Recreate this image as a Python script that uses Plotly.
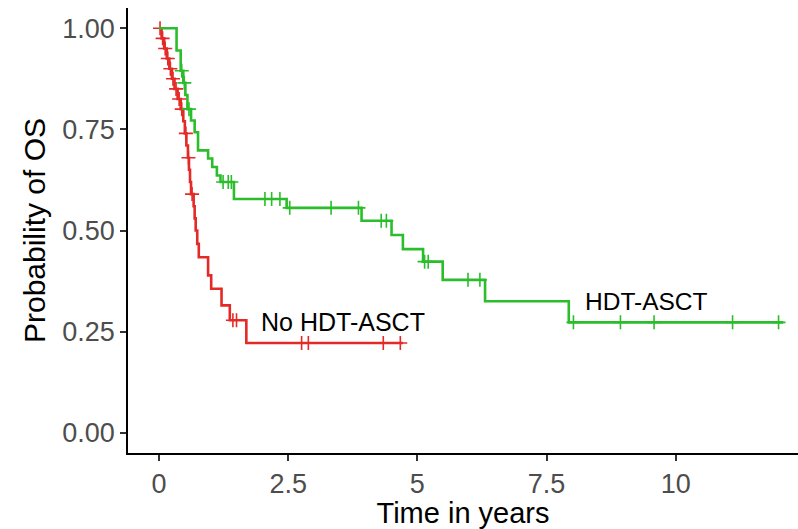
import numpy as np
import plotly.graph_objects as go

# ---- data ----
red_event_t = [0, 0.05, 0.10, 0.15, 0.20, 0.25, 0.30, 0.36, 0.42, 0.47, 0.50, 0.53, 0.56, 0.58, 0.60,
               0.62, 0.67, 0.69, 0.71, 0.74, 0.77, 0.95, 1.01, 1.21, 1.37, 1.69]
red_surv = [1.0, 0.975, 0.95, 0.925, 0.90, 0.875, 0.85, 0.825, 0.80, 0.77, 0.74, 0.71, 0.68, 0.65, 0.62,
            0.59, 0.56, 0.53, 0.50, 0.467, 0.434, 0.389, 0.356, 0.315, 0.278, 0.222]
red_end = 4.72
red_censor_t = [0.02, 0.07, 0.12, 0.17, 0.22, 0.27, 0.33, 0.39, 0.44, 0.52, 0.57, 0.64,
                1.43, 1.50, 2.76, 2.89, 4.34, 4.67]

green_event_t = [0, 0.34, 0.42, 0.47, 0.51, 0.55, 0.62, 0.69, 0.755, 0.95, 1.03, 1.12, 1.19, 1.45,
                 2.47, 3.92, 4.50, 4.72, 5.11, 5.49, 6.31, 7.93]
green_surv = [1.0, 0.945, 0.895, 0.865, 0.835, 0.80, 0.772, 0.743, 0.698, 0.678, 0.657, 0.636, 0.62, 0.578,
              0.556, 0.524, 0.489, 0.454, 0.423, 0.378, 0.325, 0.273]
green_end = 12.08
green_censor_t = [0.44, 0.49, 0.58, 1.24, 1.34, 1.40, 2.05, 2.18, 2.34, 2.53, 3.33, 3.86, 4.30, 4.40,
                  5.14, 5.21, 5.98, 6.21, 8.02, 8.93, 9.58, 11.10, 11.99]

x_ticks = [0, 2.5, 5, 7.5, 10]
x_tick_labels = ["0", "2.5", "5", "7.5", "10"]
y_ticks = [0, 0.25, 0.5, 0.75, 1.0]
y_tick_labels = ["0.00", "0.25", "0.50", "0.75", "1.00"]

RED = "#E42A27"
GREEN = "#2BBD2B"
FONT = "Liberation Sans"


def step_at(times, surv, q):
    idx = np.searchsorted(np.array(times), np.array(q), side="right") - 1
    return [surv[i] for i in idx]


fig = go.Figure()
for times, surv, end, ctimes, col in [
    (red_event_t, red_surv, red_end, red_censor_t, RED),
    (green_event_t, green_surv, green_end, green_censor_t, GREEN),
]:
    fig.add_trace(go.Scatter(x=list(times) + [end], y=list(surv) + [surv[-1]], mode="lines",
                             line=dict(color=col, width=2.6, shape="hv"), showlegend=False,
                             hoverinfo="skip"))
    fig.add_trace(go.Scatter(x=ctimes, y=step_at(times, surv, ctimes), mode="markers",
                             marker=dict(symbol="cross-thin", size=10, line=dict(color=col, width=1.6)),
                             showlegend=False, hoverinfo="skip"))

fig.add_annotation(x=3.56, y=0.274, text="No HDT-ASCT", showarrow=False,
                   font=dict(family=FONT, size=25, color="black"))
fig.add_annotation(x=9.44, y=0.325, text="HDT-ASCT", showarrow=False,
                   font=dict(family=FONT, size=24.5, color="black"))

axis_common = dict(showline=True, linecolor="black", linewidth=1.8, ticks="outside", ticklen=6,
                   tickwidth=1.8, tickcolor="#333333", showgrid=False, zeroline=False,
                   tickfont=dict(family=FONT, size=27, color="#4D4D4D"))
fig.update_layout(
    width=798, height=529,
    margin=dict(l=128, r=0, t=8, b=76),
    plot_bgcolor="white", paper_bgcolor="white",
    xaxis=dict(range=[-0.6, 12.366], tickvals=x_ticks, ticktext=x_tick_labels,
               title=dict(text="Time in years", font=dict(family=FONT, size=29, color="black"),
                          standoff=0), **axis_common),
    yaxis=dict(range=[-0.05, 1.05], tickvals=y_ticks, ticktext=y_tick_labels,
               title=dict(text="Probability of OS", font=dict(family=FONT, size=30, color="black"),
                          standoff=8), **axis_common),
)
fig.write_html("out.html")
